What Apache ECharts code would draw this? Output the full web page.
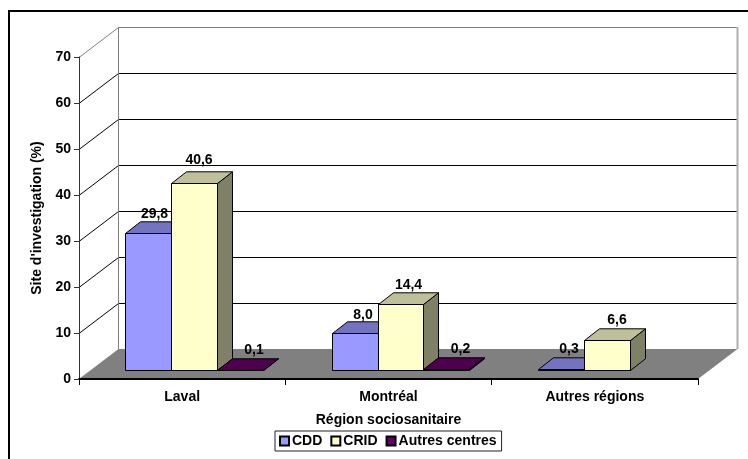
<!DOCTYPE html>
<html>
<head>
<meta charset="utf-8">
<style>html,body{margin:0;padding:0;background:#fff}#chart{width:748px;height:459px}</style>
<script src="https://cdn.jsdelivr.net/npm/echarts@6/dist/echarts.min.js"></script>
</head>
<body>
<div id="chart"></div>
<script>
const regions = ['Laval', 'Montréal', 'Autres régions'];
const cdd = [29.8, 8.0, 0.3];
const crid = [40.6, 14.4, 6.6];
const autresCentres = [0.1, 0.2, null];
const valueTicks = [0, 10, 20, 30, 40, 50, 60, 70];

const FONT = '"Liberation Sans", Arial, sans-serif';
// Oblique projection of the box: the back wall sits up and to the right of the axes.
const WALL_DX = 39.5, WALL_DY = -30;
// Bars stand partway into the floor and have their own, shallower depth.
const INSET_DX = 12, INSET_DY = -9;
const BAR_DX = 15, BAR_DY = -11.7;
const BAR_RATIO = 0.2225;

const palette = [
  { front: '#9999FF', top: '#7373BF', side: '#4D4D80' },
  { front: '#FFFFCC', top: '#BFBF99', side: '#808066' },
  { front: '#660066', top: '#4D004D', side: '#330033' }
];
// Hand placement of the value labels, relative to the centre of each bar's top back edge.
const labelNudge = [
  [[-1.5, -8], [0, -7], [0, -8.7]],
  [[-3, -11.5], [0, -7.8], [2, -8.6]],
  [[6, -8.8], [6.5, -9], [0, 0]]
];

const edge = { stroke: '#000', lineWidth: 1, lineJoin: 'round' };
const crisp = (n) => Math.round(n) + 0.5;

function poly(points, fill, style) {
  return {
    type: 'polygon',
    shape: { points: points },
    style: Object.assign({ fill: fill }, style || edge)
  };
}

function barRenderer(seriesIndex) {
  return function (params, api) {
    const cat = api.value(0);
    const val = api.value(1);
    if (val == null || isNaN(val)) return null;
    const band = api.size([1, 0])[0];
    const w = band * BAR_RATIO;
    const base = api.coord([cat, 0]);
    const head = api.coord([cat, val]);
    const xl = crisp(base[0] + INSET_DX + (seriesIndex - 1.5) * w);
    const xr = crisp(base[0] + INSET_DX + (seriesIndex - 0.5) * w);
    const yb = crisp(base[1] + INSET_DY);
    const yt = crisp(head[1] + INSET_DY);
    const colors = palette[seriesIndex];
    const nudge = labelNudge[seriesIndex][params.dataIndex];
    return {
      type: 'group',
      children: [
        poly([[xr, yb], [xr + BAR_DX, yb + BAR_DY], [xr + BAR_DX, yt + BAR_DY], [xr, yt]], colors.side),
        poly([[xl, yt], [xl + BAR_DX, yt + BAR_DY], [xr + BAR_DX, yt + BAR_DY], [xr, yt]], colors.top),
        poly([[xl, yb], [xl, yt], [xr, yt], [xr, yb]], colors.front),
        {
          type: 'text',
          z2: 50,
          style: {
            text: val.toFixed(1).replace('.', ','),
            x: (xl + xr) / 2 + BAR_DX / 2 + nudge[0],
            y: yt + BAR_DY + nudge[1],
            align: 'center',
            verticalAlign: 'middle',
            fill: '#000',
            font: 'bold 14px ' + FONT
          }
        }
      ]
    };
  };
}

function renderWallLine(params, api) {
  const v = api.value(0);
  if (v === 0) return null;
  const cs = params.coordSys;
  const y = api.coord([0, v])[1] + 0.5;
  const isTop = v === valueTicks[valueTicks.length - 1];
  return {
    type: 'polyline',
    shape: { points: [[cs.x, y], [cs.x + WALL_DX, y + WALL_DY], [cs.x + cs.width + WALL_DX, y + WALL_DY]] },
    style: { stroke: isTop ? '#808080' : '#000', lineWidth: 1, fill: null }
  };
}

function renderBackWall(params, api) {
  const cs = params.coordSys;
  const yTop = api.coord([0, valueTicks[valueTicks.length - 1]])[1] + WALL_DY;
  const yBot = api.coord([0, 0])[1] + WALL_DY;
  const xl = cs.x + WALL_DX;
  const xr = xl + cs.width;
  return {
    type: 'group',
    children: [
      { type: 'line', shape: { x1: xl, y1: yTop, x2: xl, y2: yBot }, style: { stroke: '#808080', lineWidth: 1 } },
      { type: 'line', shape: { x1: xr, y1: yTop, x2: xr, y2: yBot }, style: { stroke: '#B0B0B0', lineWidth: 2 } }
    ]
  };
}

function renderFloor(params, api) {
  const cs = params.coordSys;
  const y = api.coord([0, 0])[1];
  return poly([
    [cs.x, y], [cs.x + cs.width, y],
    [cs.x + cs.width + WALL_DX, y + WALL_DY], [cs.x + WALL_DX, y + WALL_DY]
  ], '#808080', { stroke: 'none' });
}

const pairs = (arr) => arr.map((v, i) => [i, v]);
const barSeries = (name, arr, i) => ({
  name: name,
  type: 'custom',
  coordinateSystem: 'cartesian2d',
  z: 4,
  renderItem: barRenderer(i),
  itemStyle: { color: palette[i].front, borderColor: '#000', borderWidth: 1 },
  encode: { x: 0, y: 1 },
  data: pairs(arr)
});
const decor = (render, data) => ({
  type: 'custom',
  coordinateSystem: 'cartesian2d',
  z: 2,
  silent: true,
  renderItem: render,
  encode: { x: 0, y: 1 },
  data: data
});

const chart = echarts.init(document.getElementById('chart'), null, { renderer: 'canvas' });
chart.setOption({
  animation: false,
  backgroundColor: '#fff',
  textStyle: { fontFamily: FONT },
  graphic: [{
    type: 'polyline',
    silent: true,
    shape: { points: [[9, 459], [9, 11], [748, 11]] },
    style: { stroke: '#000', lineWidth: 2, fill: null }
  }],
  grid: { left: 79, right: 50, top: 57, bottom: 80 },
  legend: {
    left: 275,
    top: 431,
    orient: 'horizontal',
    data: ['CDD', 'CRID', 'Autres centres'],
    icon: 'rect',
    itemWidth: 9,
    itemHeight: 9,
    itemGap: 8,
    padding: [3, 5, 3, 4],
    borderColor: '#222',
    borderWidth: 1,
    selectedMode: false,
    textStyle: { fontFamily: FONT, fontWeight: 'bold', fontSize: 14, color: '#000', padding: [0, 0, 0, -2] }
  },
  xAxis: {
    type: 'category',
    data: regions,
    z: 6,
    name: 'Région sociosanitaire',
    nameLocation: 'middle',
    nameGap: 34,
    nameTextStyle: { fontFamily: FONT, fontWeight: 'bold', fontSize: 14, color: '#000' },
    axisLine: { lineStyle: { color: '#000', width: 2 } },
    axisTick: { show: true, interval: 0, length: 6, alignWithLabel: false, lineStyle: { color: '#000', width: 1 } },
    axisLabel: { fontFamily: FONT, fontWeight: 'bold', fontSize: 14, color: '#000', margin: 11 },
    splitLine: { show: false }
  },
  yAxis: {
    type: 'value',
    min: 0,
    max: 70,
    interval: 10,
    z: 6,
    name: 'Site d\'investigation (%)',
    nameLocation: 'middle',
    nameGap: 34,
    nameTextStyle: { fontFamily: FONT, fontWeight: 'bold', fontSize: 14, color: '#000' },
    axisLine: { show: true, lineStyle: { color: '#333', width: 1 } },
    axisTick: { show: true, length: 5, lineStyle: { color: '#333', width: 1 } },
    axisLabel: { fontFamily: FONT, fontWeight: 'bold', fontSize: 14, color: '#000', margin: 8 },
    splitLine: { show: false }
  },
  series: [
    decor(renderFloor, [[0, 0]]),
    decor(renderWallLine, valueTicks.map((v) => [v])),
    decor(renderBackWall, [[0, 0]]),
    barSeries('CDD', cdd, 0),
    barSeries('CRID', crid, 1),
    barSeries('Autres centres', autresCentres, 2)
  ]
});
</script>
</body>
</html>
